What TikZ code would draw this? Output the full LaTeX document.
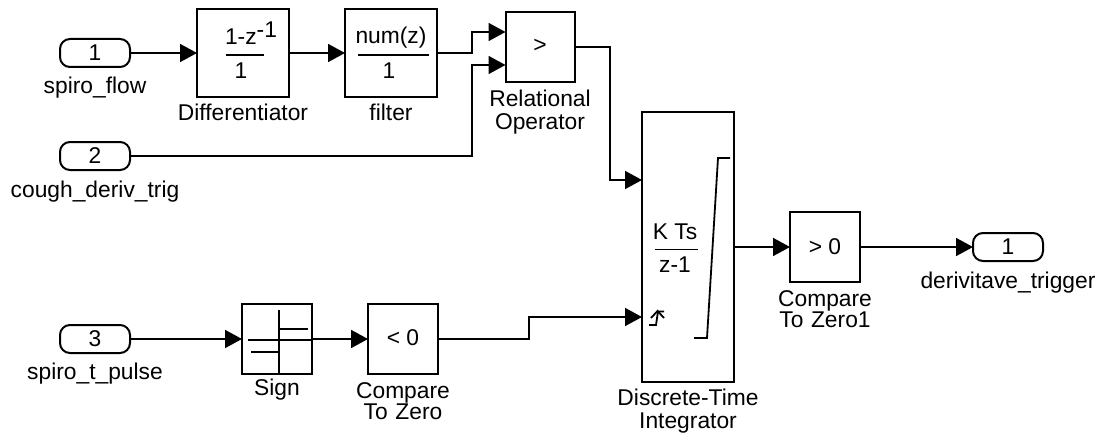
\documentclass[tikz,border=0pt]{standalone}
\usepackage{fontspec}
\setmainfont{Liberation Sans}
\usetikzlibrary{arrows.meta,calc}
\tikzset{
  blk/.style={draw=black,line width=2pt,fill=white,minimum width=#1,inner sep=0pt,outer sep=0pt},
  port/.style={draw=black,line width=2pt,rounded corners=10pt,minimum width=70pt,minimum height=28pt,inner sep=0pt,outer sep=0pt,font=\fontsize{22.8}{24}\selectfont},
  lbl/.style={font=\fontsize{22.8}{24}\selectfont,align=center,inner sep=0pt},
  txt/.style={font=\fontsize{22.8}{24}\selectfont,inner sep=0pt},
  wire/.style={line width=1.8pt,-{Triangle[length=17pt,width=18pt]}},
  glyph/.style={line width=1.8pt}
}
\begin{document}
\begin{tikzpicture}[x=1pt,y=-1pt]
\useasboundingbox (0,0) rectangle (1106,436);
% inports / outport
\node[port] (in1) at (95,53) {1};
\node[port] (in2) at (95,156) {2};
\node[port] (in3) at (95,339) {3};
\node[port] (out1) at (1008,247) {1};
\node[lbl] (l1) at (95,88) {spiro\_flow};
\node[lbl] (l2) at (95,192) {cough\_deriv\_trig};
\node[lbl] (l3) at (95,374) {spiro\_t\_pulse};
\node[lbl] (l4) at (1008,283) {derivitave\_trigger};
% blocks
\node[blk=92pt,minimum height=87pt] (diff) at (243,53) {};
\node[blk=92pt,minimum height=87pt] (filt) at (391,53) {};
\node[blk=69pt,minimum height=70pt] (rel) at (540,47) {};
\node[blk=92pt,minimum height=270pt] (int) at (688,247) {};
\node[blk=70pt,minimum height=70pt] (sign) at (277,339) {};
\node[blk=70pt,minimum height=70pt] (lt) at (403,339) {};
\node[blk=70pt,minimum height=70pt] (gt) at (825,247) {};
% block texts
\node[txt] (d1) at (251,33) {1-z\raisebox{7pt}{-1}};
\draw[glyph] (226,55) -- (264,55);
\node[txt] (d2) at (241,71) {1};
\node[txt] (f1) at (391,38) {num(z)};
\draw[glyph] (358,55) -- (429,55);
\node[txt] (f2) at (389,71) {1};
\node[txt] (r1) at (540,46) {>};
\node[txt] (i1) at (675,232) {K Ts};
\draw[glyph] (655,249.5) -- (698,249.5);
\node[txt] (i2) at (675,265) {z-1};
\node[txt] (c1) at (403,338) {< 0};
\node[txt] (c2) at (825,247) {> 0};
% block labels
\node[lbl] (ld) at (243,112.5) {Differentiator};
\node[lbl] (lf) at (391,112.5) {filter};
\node[lbl,text width=130pt] (lr) at (540,112) {Relational\\[-1.5pt]Operator};
\node[lbl,text width=170pt] (li) at (688,411) {Discrete-Time\\[-1.5pt]Integrator};
\node[lbl] (ls) at (277,390) {Sign};
\node[lbl,text width=130pt] (llt) at (403,401) {Compare\\[-2.5pt]To Zero};
\node[lbl,text width=130pt] (lgt) at (825,309) {Compare\\[-2.5pt]To Zero1};
% integrator glyphs
\draw[glyph] (694,338) -- (707,338) -- (718,158) -- (730,158);
\draw[glyph] (649,325) -- (656,325) -- (658,311.5) -- (664,311.5);
\draw[glyph] (651,318) -- (657.5,311) -- (664,318);
% sign glyph
\draw[glyph] (279,310) -- (279,373);
\draw[glyph] (279,329) -- (308,329);
\draw[glyph] (248,340) -- (311,340);
\draw[glyph] (251,352) -- (279,352);
% ports
\coordinate (r1p) at (rel.west |- 0,32);
\coordinate (r2p) at (rel.west |- 0,65);
\coordinate (i1p) at (int.west |- 0,180);
\coordinate (i2p) at (int.west |- 0,317);
% wires
\draw[wire] (in1.east) -- (diff.west);
\draw[wire] (diff.east) -- (filt.west);
\draw[wire] (filt.east) -- (472,53) -- (472,32) -- (r1p);
\draw[wire] (in2.east) -- (472,156) -- (472,65) -- (r2p);
\draw[wire] (rel.east) -- (610,47) -- (610,180) -- (i1p);
\draw[wire] (in3.east) -- (sign.west);
\draw[wire] (sign.east) -- (lt.west);
\draw[wire] (lt.east) -- (529,339) -- (529,317) -- (i2p);
\draw[wire] (int.east) -- (gt.west);
\draw[wire] (gt.east) -- (out1.west);
\end{tikzpicture}
\end{document}
